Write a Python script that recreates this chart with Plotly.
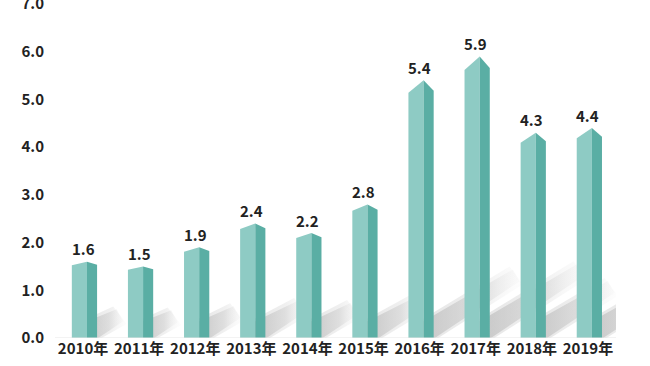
import plotly.graph_objects as go

years = ["2010年", "2011年", "2012年", "2013年", "2014年", "2015年", "2016年", "2017年", "2018年", "2019年"]
values = [1.6, 1.5, 1.9, 2.4, 2.2, 2.8, 5.4, 5.9, 4.3, 4.4]
y_ticks = [0, 1, 2, 3, 4, 5, 6, 7]
y_ticktext = ["0.0", "1.0", "2.0", "3.0", "4.0", "5.0", "6.0", "7.0"]

FONT = "Noto Sans CJK SC"
FRONT = "#8ecbc4"
SIDE = "#5aaea4"

fig = go.Figure()

# geometry (in category units relative to category center)
X0, XM, X1 = -0.20, 0.07, 0.25
ROOF = 0.048   # roof drop per value unit
SDX, SDY = 0.28, 0.22  # shadow tip offset per value unit

# soft shadows (layered for blur)
for i, v in enumerate(values):
    for grow, alpha in [(0.06, 0.35), (0.0, 0.6)]:
        xs = [i + XM, i + X1 + 0.02 + grow, i + X1 + 0.02 + SDX * v + grow,
              i + XM + SDX * v + 0.08 - grow, i + XM]
        ys = [0, 0, SDY * v - grow, SDY * v + 0.25 + grow, 0.35 + grow]
        fig.add_trace(go.Scatter(
            x=xs, y=ys, mode="lines", fill="toself", line=dict(width=0),
            fillgradient=dict(type="horizontal",
                              colorscale=[[0, f"rgba(180,180,180,{alpha})"],
                                          [0.6, f"rgba(200,200,200,{alpha * 0.75})"],
                                          [1, f"rgba(230,230,230,{alpha * 0.2})"]]),
            hoverinfo="skip", showlegend=False))

# bars: front face and side face
for i, v in enumerate(values):
    d = ROOF * v
    fig.add_trace(go.Scatter(
        x=[i + X0, i + X0, i + XM, i + XM, i + X0],
        y=[0, v - d, v, 0, 0],
        mode="lines", fill="toself", fillcolor=FRONT, line=dict(width=0),
        hoverinfo="skip", showlegend=False))
    fig.add_trace(go.Scatter(
        x=[i + XM, i + XM, i + X1, i + X1, i + XM],
        y=[0, v, v - d * 0.85, 0, 0],
        mode="lines", fill="toself", fillcolor=SIDE, line=dict(width=0),
        hoverinfo="skip", showlegend=False))

# value labels
for i, v in enumerate(values):
    fig.add_annotation(x=i, y=v, text=f"{v:.1f}", showarrow=False, yshift=13,
                       font=dict(family=FONT, size=15, color="#222222", weight="bold"))

# baseline
fig.add_trace(go.Scatter(x=[-0.5, 9.5], y=[0, 0], mode="lines",
                         line=dict(color="#e6e6e6", width=1), hoverinfo="skip", showlegend=False))

fig.update_layout(
    width=650, height=366,
    margin=dict(l=55, r=34, t=4, b=28, autoexpand=False),
    paper_bgcolor="white", plot_bgcolor="white",
    font=dict(family=FONT, size=15, color="#222222"),
    xaxis=dict(range=[-0.5, 9.5], tickvals=list(range(len(years))), ticktext=years,
               showgrid=False, zeroline=False, showline=False, ticks="", automargin=False,
               tickfont=dict(family=FONT, size=15, color="#222222", weight="bold"), fixedrange=True),
    yaxis=dict(range=[0, 7.0001], tickvals=y_ticks, ticktext=y_ticktext,
               showgrid=False, zeroline=False, showline=False, ticks="", ticklabelstandoff=10,
               automargin=False, ticklabeloverflow="allow",
               tickfont=dict(family=FONT, size=15, color="#222222", weight="bold"), fixedrange=True),
)

fig.write_html("out.html")
